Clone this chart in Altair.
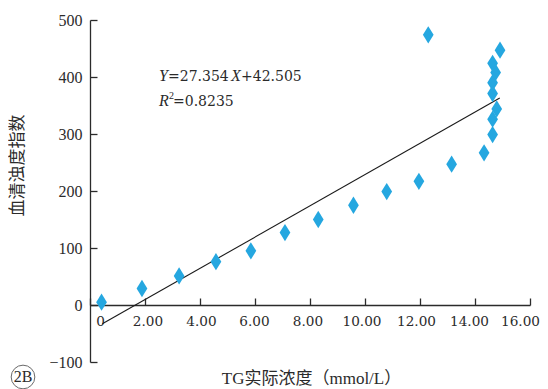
import altair as alt
import pandas as pd

# ---- data ----
tg_x = [0.42, 1.89, 3.24, 4.58, 5.85, 7.09, 8.30, 9.58, 10.79, 11.96, 13.15,
        14.33, 14.64, 14.64, 14.79, 14.64, 14.64, 14.75, 14.64, 14.91, 12.30]
turb_y = [5, 29, 51, 76, 95, 127, 150, 175, 199, 217, 247,
          267, 299, 326, 344, 371, 390, 408, 424, 447, 474]
fit_x = [0.45, 14.9]
fit_y = [-33, 363]
x_ticks = [0, 2, 4, 6, 8, 10, 12, 14, 16]
x_label_shift = [10, 2.5, 1, -1, -2.5, -3.5, -4, -6, -10]
y_ticks = [-100, 0, 100, 200, 300, 400, 500]

W, H = 440, 342
SERIF = "Liberation Serif, Noto Sans CJK SC"
WIDE = "DejaVu Serif"
INK = "#2b2b2b"

pts = pd.DataFrame({"x": tg_x, "y": turb_y})
fit = pd.DataFrame({"x": fit_x, "y": fit_y})

xscale = alt.Scale(domain=[0, 16], nice=False, zero=False)
yscale = alt.Scale(domain=[-100, 500], nice=False, zero=False)

label_offset = {
    "condition": [
        {"test": f"datum.value === {v}", "value": s}
        for v, s in zip(x_ticks, x_label_shift)
    ],
    "value": 0,
}

# main axes: labels, titles and domain lines (no ticks)
x_axis = alt.Axis(
    title="TG实际浓度（mmol/L）", values=x_ticks, offset=-57, ticks=False,
    labelExpr="datum.value == 0 ? '0' : format(datum.value, '.2f')",
    labelFont=WIDE, labelFontSize=13.6, labelColor=INK, labelPadding=9,
    labelOffset=label_offset,
    labelFlush=False, labelOverlap=False,
    domainColor=INK, domainWidth=1.3, grid=False,
    titleFont=SERIF, titleFontSize=17, titleFontWeight="normal", titleColor=INK,
    titleX=221, titleY=73, titleBaseline="middle", titleAlign="center",
)
y_axis = alt.Axis(
    title="血清浊度指数", values=y_ticks, ticks=False,
    labelFont="Liberation Serif", labelFontSize=16, labelColor=INK, labelPadding=8,
    labelFlush=False, labelOverlap=False,
    domainColor=INK, domainWidth=1.3, grid=False,
    titleFont=SERIF, titleFontSize=17, titleFontWeight="normal", titleColor=INK,
    titleX=-73, titleY=145, titleAngle=-90, titleBaseline="middle", titleAlign="center",
)
# tick-only axes placed on the same lines so that ticks point inward
x_ticks_axis = alt.Axis(
    orient="top", offset=-(H - 57), values=x_ticks, labels=False, domain=False,
    title=None, grid=False, tickSize=7, tickColor=INK, tickWidth=1.3,
)
y_ticks_axis = alt.Axis(
    orient="right", offset=-W, values=y_ticks, labels=False, domain=False,
    title=None, grid=False, tickSize=7, tickColor=INK, tickWidth=1.3,
)

diamond = "M0,-1L0.62,0L0,1L-0.62,0Z"

line = alt.Chart(fit).mark_line(color="#1a1a1a", strokeWidth=1.1).encode(
    x=alt.X("x:Q", scale=xscale, axis=x_ticks_axis),
    y=alt.Y("y:Q", scale=yscale, axis=y_ticks_axis),
)

points = alt.Chart(pts).mark_point(
    shape=diamond, filled=True, color="#25a7e0", size=300, opacity=1
).encode(
    x=alt.X("x:Q", scale=xscale, axis=x_axis),
    y=alt.Y("y:Q", scale=yscale, axis=y_axis),
)

one = alt.Data(values=[{"a": 1}])


def txt(s, x, y, font=WIDE, size=14, style="normal", align="left", baseline="alphabetic"):
    return alt.Chart(one).mark_text(
        text=s, font=font, fontSize=size, fontStyle=style, color=INK,
        align=align, baseline=baseline,
    ).encode(x=alt.value(x), y=alt.value(y))


texts = [
    txt("Y", 69, 61, font="Liberation Serif", size=16, style="italic"),
    txt("=27.354", 78, 61),
    txt("X", 141, 61, font="Liberation Serif", size=16, style="italic"),
    txt("+42.505", 151, 61),
    txt("R", 69, 86, font="Liberation Serif", size=16, style="italic"),
    txt("2", 79, 79, font="Liberation Serif", size=10),
    txt("=0.8235", 83, 86),
    txt("2B", -67, 357, font="Liberation Serif", size=16, align="center", baseline="middle"),
]

ring = alt.Chart(one).mark_point(
    shape="circle", filled=False, color=INK, strokeWidth=1, size=560
).encode(x=alt.value(-67), y=alt.value(357))

chart = alt.layer(line, points, *texts, ring).resolve_scale(
    x="independent", y="independent"
).properties(
    width=W, height=H,
    autosize=alt.AutoSizeParams(type="none"),
    padding={"left": 82, "top": 12, "right": 10, "bottom": 27},
).configure_view(stroke=None)

chart.save("out.html", embed_options={"renderer": "svg", "actions": False})
